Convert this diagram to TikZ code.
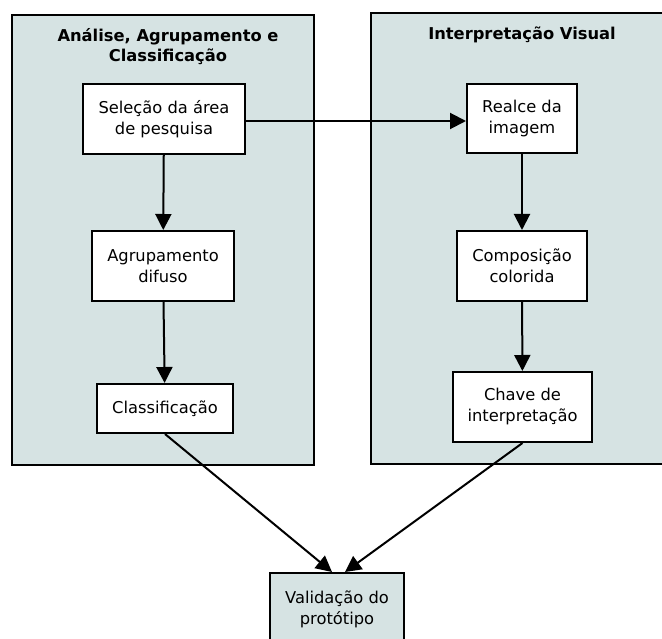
\documentclass[tikz,border=0pt]{standalone}
\usepackage{fontspec}
\setmainfont{DejaVu Sans}
\usetikzlibrary{arrows.meta}
\definecolor{clfill}{RGB}{214,227,227}
\tikzset{
  cluster/.style={draw=black, line width=2pt, fill=clfill},
  proc/.style={draw=black, line width=2pt, fill=white, align=center, inner sep=0pt,
    font=\fontsize{16.3}{21}\selectfont},
  title/.style={align=center, font=\bfseries\fontsize{16.3}{20}\selectfont},
  edge/.style={line width=2pt, -{Triangle[length=16pt,width=16pt]}}
}
\begin{document}
\begin{tikzpicture}[x=1pt,y=-1pt]
\useasboundingbox (0,0) rectangle (662,639);
\clip (0,0) rectangle (662,639);
\draw[cluster] (12,15) rectangle (314,465);
\draw[cluster] (371,13) rectangle (670,464);
\node[title] (t1) at (168,47) {Análise, Agrupamento e\\Classificação};
\node[title] (t2) at (522,35) {Interpretação Visual};
\node[proc, minimum width=162pt, minimum height=70pt] (sel) at (164,119) {Seleção da área\\de pesquisa};
\node[proc, minimum width=142pt, minimum height=70pt] (agr) at (163,266) {Agrupamento\\difuso};
\node[proc, minimum width=136pt, minimum height=49pt] (cla) at (165,408.5) {Classificação};
\node[proc, minimum width=110pt, minimum height=69pt] (rea) at (522,118.5) {Realce da\\imagem};
\node[proc, minimum width=130pt, minimum height=70pt] (com) at (522,266) {Composição\\colorida};
\node[proc, minimum width=139pt, minimum height=70pt] (cha) at (522.5,407) {Chave de\\interpretação};
\node[proc, fill=clfill, minimum width=134pt, minimum height=72pt] (val) at (337,609) {Validação do\\protótipo};
\draw[edge] ([yshift=-2pt]sel.east) -- ([yshift=-2pt]sel.east -| rea.west);
\draw[edge] (sel) -- (agr);
\draw[edge] (agr) -- (cla);
\draw[edge] (rea) -- (com);
\draw[edge] (com) -- (cha);
\draw[edge] (cla.south) -- ([xshift=-5pt]val.north);
\draw[edge] (cha.south) -- ([xshift=8pt]val.north);
\end{tikzpicture}
\end{document}
